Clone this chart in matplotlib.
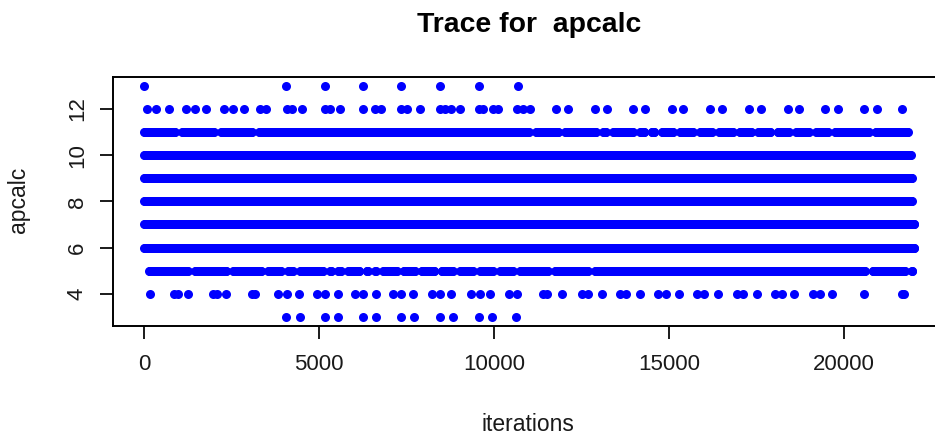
import numpy as np
import matplotlib.pyplot as plt

plt.rcParams['font.family'] = ['Liberation Sans', 'DejaVu Sans']

n_iter = 22000

# rare values - iterations where the chain sits there
iters_13 = [0, 4050, 5160, 6250, 7350, 8450, 9560, 10670]
iters_3 = [4050, 4450, 5160, 5550, 6250, 6620, 7350, 7710, 8450, 8830,
           9560, 9940, 10610]
iters_12 = [70, 340, 710, 1190, 1450, 1760, 2280, 2540, 2860, 3320, 3470,
            4090, 4230, 4500, 5160, 5310, 5610, 6250, 6600, 6780, 7350, 7500,
            7880, 8450, 8590, 8780, 9020, 9560, 9690, 9970, 10110, 10640,
            10830, 11020, 11780, 12100, 12880, 13210, 13970, 14310, 15070,
            15400, 16180, 16500, 17290, 17610, 18400, 18710, 19450, 19810,
            20560, 20930, 21660]
iters_4 = [160, 850, 970, 1260, 1970, 2070, 2350, 3070, 3160, 3830, 4070,
           4420, 4930, 5160, 5530, 6020, 6260, 6620, 7110, 7350, 7670, 8210,
           8450, 8780, 9350, 9590, 9880, 10430, 10640, 11400, 11500, 11950,
           12500, 12690, 13070, 13590, 13780, 14160, 14690, 14910, 15290,
           15800, 15990, 16400, 16930, 17100, 17500, 18020, 18210, 18560,
           19110, 19310, 19660, 20570, 21640, 21710]

# frequent values: (first iter, last iter, iterations where the band has a gap)
band_values = [5, 6, 7, 8, 9, 10, 11]
band_first = [140, 0, 0, 0, 0, 0, 0]
band_last = [21960, 22000, 22000, 21950, 21950, 21900, 21820]
band_gaps = [
    [1350, 2450, 3450, 4020, 4350, 5210, 5450, 5730, 6260, 6500, 6730, 7310,
     7830, 8400, 8930, 9500, 10070, 10640, 11640, 12780, 20710, 21830],
    [], [], [], [], [],
    [990, 2100, 3190, 11090, 11930, 13020, 13300, 14070, 14400, 14690,
     15210, 15780, 16330, 16910, 17450, 18000, 18530, 19100, 19640, 20800],
]

# chain thinned to every 20th draw for drawing the dense bands
step = 20
half_gap = 100

xs, ys = [], []
for v, a, b, gaps in zip(band_values, band_first, band_last, band_gaps):
    edges = [a] + gaps + [b]
    for i in range(len(edges) - 1):
        lo = edges[i] if i == 0 else edges[i] + half_gap
        hi = edges[i + 1] if i == len(edges) - 2 else edges[i + 1] - half_gap
        seg = np.arange(lo, hi + 1, step)
        xs.append(seg)
        ys.append(np.full(len(seg), v))
for v, it in [(13, iters_13), (12, iters_12), (4, iters_4), (3, iters_3)]:
    xs.append(np.array(it))
    ys.append(np.full(len(it), v))
x = np.concatenate(xs)
y = np.concatenate(ys)

fig = plt.figure(figsize=(9.35, 4.38), dpi=100)
ax = fig.add_axes([0.1212, 0.2557, 0.8895, 0.5692])
ax.plot(x, y, 'o', color='#0000FF', markersize=6.5, markeredgewidth=0)

ax.set_xlim(-0.04 * n_iter, 1.04 * n_iter)
ax.set_ylim(2.6, 13.4)
ax.set_xticks([0, 5000, 10000, 15000, 20000])
ax.set_yticks([4, 6, 8, 10, 12])
for s in ax.spines.values():
    s.set_linewidth(1.4)
ax.tick_params(length=9.4, width=1.4, labelsize=16, colors='#1a1a1a')
ax.tick_params(axis='x', pad=11)
ax.tick_params(axis='y', pad=9)
for lab in ax.get_yticklabels():
    lab.set_rotation(90)
    lab.set_va('center')

fig.text(0.5658, 0.943, 'Trace for  apcalc', ha='center', va='center',
         fontsize=20.4, fontweight='bold')
fig.text(0.5647, 0.016, 'iterations', ha='center', va='baseline',
         fontsize=16.5, color='#1a1a1a')
fig.text(0.0195, 0.5434, 'apcalc', ha='center', va='center', rotation=90,
         fontsize=16.5, color='#1a1a1a')

fig.savefig('out.png', dpi=100)
